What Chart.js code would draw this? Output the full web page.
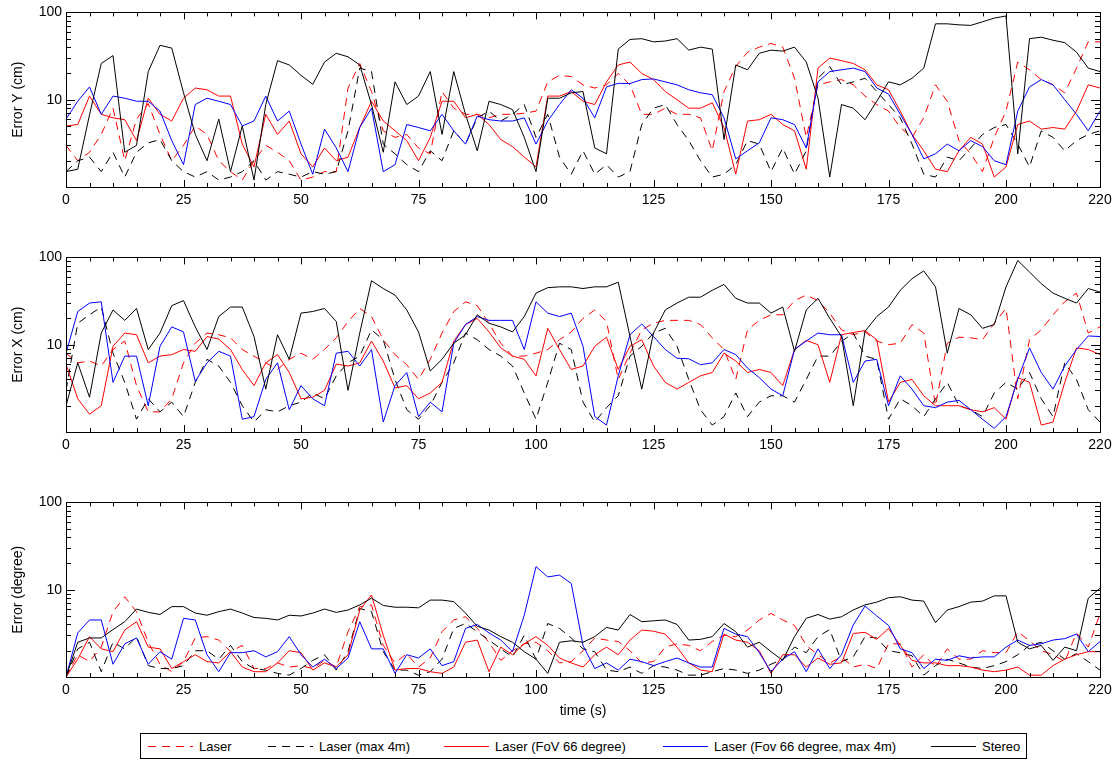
<!DOCTYPE html>
<html>
<head>
<meta charset="utf-8">
<script src="https://cdn.jsdelivr.net/npm/chart.js@4.4.0/dist/chart.umd.min.js"></script>
<style>
  body { margin: 0; background: #fff; font-family: "Liberation Sans", Arial, sans-serif; }
  #wrap { position: relative; width: 1117px; height: 763px; overflow: hidden; }
  canvas { position: absolute; left: 0; }
  #legend { position: absolute; left: 140px; top: 733px; width: 887px; height: 26px; box-sizing: border-box;
            border: 1px solid #000; font-size: 13px; color: #000; }
  #legend .item { position: absolute; top: 0; height: 24px; display: flex; align-items: center; white-space: nowrap; }
  #legend svg { margin-right: 6px; }
</style>
</head>
<body>
<div id="wrap">
  <canvas id="chartY" width="1117" height="210" style="top:0px"></canvas>
  <canvas id="chartX" width="1117" height="210" style="top:245px"></canvas>
  <canvas id="chartD" width="1117" height="232" style="top:490px"></canvas>
  <div id="legend"></div>
</div>
<script>
// time axis (s), sampled every 2.5 s
const times = [0,2.5,5,7.5,10,12.5,15,17.5,20,22.5,25,27.5,30,32.5,35,37.5,40,42.5,45,47.5,50,52.5,55,
  57.5,60,62.5,65,67.5,70,72.5,75,77.5,80,82.5,85,87.5,90,92.5,95,97.5,100,102.5,105,107.5,110,112.5,
  115,117.5,120,122.5,125,127.5,130,132.5,135,137.5,140,142.5,145,147.5,150,152.5,155,157.5,160,162.5,165,167.5,
  170,172.5,175,177.5,180,182.5,185,187.5,190,192.5,195,197.5,200,202.5,205,207.5,210,212.5,215,217.5,220];

const xTicks = [0, 25, 50, 75, 100, 125, 150, 175, 200, 220];
const yTicks = [10, 100];

// Error Y (cm)
const laserY = [3,2,2.5,4,8,2,6,9,4,2,3,5,4,2,1.5,1.2,2,3,2.5,2,1.2,1.3,1.5,
  1.5,13.6,26,12.4,4.4,3.7,4,2.8,2.4,12.4,8,6.8,6.8,6.2,6.8,6.8,7,7.4,16,19,18.4,14.8,13.6,
  14.8,20,14.8,6.8,6.8,8,6.8,6.8,6.2,2.6,12.4,24,35,40,44,40,17.6,3.7,14.8,16,17,14.8,
  11,8.8,7.4,4.8,3.7,6.2,14.8,9.6,3.4,2.4,1.5,3.7,7.4,27,22,17,14.8,12,23,46,46];
const laser4mY = [1.5,2,2.2,1.5,2.5,1.3,2.5,3.2,3.5,2,1.5,1.3,1.5,1.2,1.3,1.5,2,1.2,1.5,1.4,1.3,1.5,1.4,
  1.5,4.4,23,21,3.1,2.4,1.8,1.5,2.6,2,4.4,3.1,6.2,7.4,5.7,6.8,8.8,3.7,6.8,2.2,1.4,2.6,1.4,
  1.8,1.3,1.5,5.2,8,8.8,5.2,3.4,2,1.3,1.4,1.8,3.4,3.1,1.5,2.8,1.4,2.6,17.6,24,14.8,16,
  17.6,12.4,8.8,6.2,3.1,1.4,1.3,2.2,2,2.8,4,4.8,5.2,3.1,1.7,4.4,3.7,2.6,3.4,4,4.4];
const fovY = [5,5.2,11,6.8,6.2,5.9,3.4,10.4,6.8,5.7,10.4,13.6,13,11,11,3.1,1.7,6.8,4,5.7,2.4,1.7,2.8,
  2,2.2,4.8,9.6,5.7,4.4,3.4,2,3.7,9.6,9.6,6.2,6.8,5.2,3.5,2.9,2.2,1.7,11,11,12.4,9.6,8.8,
  16,25,27,20,17,12.4,10,8,8,9.2,4.8,1.4,5.7,5.9,6.8,5.2,4.4,1.6,23,30,28,26,
  22,14.8,13,7.4,4,2.6,1.6,1.5,2.6,3.7,3.1,1.3,1.7,5.2,5.7,4.6,4.8,4.6,7.4,14.8,13.6];
const fov4mY = [6,9.6,14,6.8,11,10.4,9.6,9.6,7.4,3.4,1.8,8.8,10.4,9.6,8.8,5,5.7,11,5.7,7.4,3.1,1.4,4.6,
  2.8,1.5,4.8,8,1.5,1.8,5.2,4.8,4.4,6.8,4.4,3.1,6.5,5.9,5.7,5.7,6.2,3.1,5.7,8.8,13,10.4,6.2,
  14,15.4,15.3,17,17.3,16,14.8,13,12,11.4,6.2,2.1,2.6,3.2,6.2,5.9,5.2,2.8,16,21,22,23,
  21,13.6,11.6,6.8,4,2.1,2.4,3.1,2.6,3.4,2.9,2,1.8,7.4,14,17,14.8,10,6.8,4.4,7.4];
const stereoY = [1.5,1.6,6.7,26,32,2.5,3,21,42,39,12,4,2,6,1.5,5,1.2,8.8,28,25,19,15,27,
  34,31,25,8.8,2.5,16,8.8,11,21,4,21,6.8,2.6,9.6,8.8,7.7,3.7,1.5,10.4,10.4,12,12.4,2.8,
  2.4,38,49,50,46,47,50,37,40,38,3.5,25,22,34,37,36,40,27,10.4,1.3,8.8,8,
  5.9,9.6,16,14.8,17.6,23,74,74,72,71,78,86,91,2.4,50,52,48,45,35,23,21];

// Error X (cm)
const laserX = [8,6.2,6.5,5.7,8.8,11,3.4,1.7,1.7,2.4,6.2,10.4,13.6,13,12,8.8,7.4,6.2,5.2,6.8,8,6.8,8.8,
  12,18.4,26,21,11.4,7.7,5.9,4,6.8,13.6,24,31,28,17.6,10.4,7.4,7.4,8,8.8,11.4,14,20,25,
  18.4,4,8,14.8,17.6,19,19,19,17,12,8.8,4,14.8,19,22,22,32,37,32,23,14.8,13,
  14,11,10,10.4,17,13.6,2,10.4,12.2,12,11.4,17.6,26,2.4,11.4,14.8,22,31,39,13.6,16];
const laser4mX = [3,17.6,22,27,8,3.7,1.4,2.4,1.7,2.2,1.5,3.7,6.8,5.7,3.7,2,1.3,1.8,1.7,2,2.2,2.8,2.4,
  4.4,6.2,7.4,14.8,11.4,4,1.8,1.4,2,3.7,6.2,13.6,11.4,8.8,7.4,5.7,2.8,1.4,3.7,10.4,8.8,2.2,1.3,
  1.9,2.6,7.4,9.6,13.6,15.4,9.6,4,1.8,1.2,1.5,2.8,1.5,2.2,2.6,2.6,2.2,4,7.4,7.4,10.9,13.6,
  7.4,6.8,1.4,2.4,2,1.5,2.4,3.7,2,1.8,1.5,2.8,3.7,3.1,4.8,2.4,1.5,6.2,4,1.8,1.3];
const fovX = [6,2.4,1.6,2,9.6,13.6,13,6.2,7.4,7.7,8.8,8.4,12.4,11.6,8.8,5.2,3.4,6.2,7.7,4.8,2.4,2.5,3,
  6,5.7,6.2,11,6.5,3.2,3.4,2.4,2.8,3.7,11,17,20,14,9.2,7.4,6.8,4.4,15.4,8.8,5.2,5.7,9.6,
  12.2,5.2,9.6,11.4,5.7,3.7,3.1,3.7,4.4,4.8,8,6.5,4.8,5.2,4.8,3.4,8.8,11.2,10,3.7,13,13.8,
  14.5,11.4,2.2,3.7,4,2.6,2,2,2,1.8,1.7,1.9,1.4,4.2,3.7,1.2,1.3,3.7,9.2,8.8,7.7];
const fov4mX = [8,24,30,31,3.7,7.4,7.4,2,9.6,16,14,3.8,6.2,8.4,7.4,1.4,1.5,4,6.2,1.8,3.4,2.4,2,
  8,8.4,5.7,8.8,1.3,3.4,4.8,1.5,2.2,1.7,10.4,17,21,19,19,19,8.8,31,23,21,23,9.6,1.5,
  1.2,4.4,13,17.3,12.4,8.8,7,6.9,5.9,6.2,8.8,7.7,5.4,4.2,3.1,2.6,8.8,11,13.6,13,13,3.7,
  6.5,6.8,2,4.4,3.1,2,1.9,2.2,2.3,1.8,1.4,1.1,1.5,4,9.2,4.8,3.1,5.7,8.8,12.6,12.4];
const stereoX = [2,6.2,2.5,13.6,25,19,26,8.8,13.6,28,32,16,8.8,21,27,27,12.4,3.1,13,6.8,23,24,26,
  18.4,3,13.6,54,44,37,25,14,5,6.8,10.4,13,22,17.6,16,14,21,39,45,46,46,44,46,
  46,52,12.4,3.1,13.6,25,30,35,35,42,49,34,30,30,23,27,8.4,25,34,20,12.4,2,
  14.2,21,27,42,57,70,46,8,26,22,15.4,17,46,92,68,50,39,34,30,44,40];

// Error (degree)
const laserD = [1,1.8,1.5,2.2,5.6,8.3,5.6,2.5,1.4,1.15,1.5,2.8,2.9,2.65,1.95,2.3,1.25,1.25,1.45,1.3,1.35,1.25,1.55,
  1.3,3.3,6.4,6.7,2.3,1.45,1.85,1.3,1.65,3.3,4.5,4.9,3.6,2.5,1.55,2,2.4,2.5,2,1.45,1.5,2,2.8,
  2.65,2.55,2,1.45,1.5,2.2,2.4,2.3,2,2.55,3,2.9,3.45,4.5,5.35,4.5,3.9,2.3,1.8,1.45,1.7,1.3,
  1.4,1.25,2.4,2.4,1.3,1.8,1.3,2.1,1.6,1.6,2,1.9,1.9,3.3,2.6,2,1.8,1.5,3.2,2.2,5.3];
const laser4mD = [1,2.1,2.5,1.15,2.5,2.1,2.9,1.35,1.25,1.25,1.35,2,2,1.6,2.3,1.5,1.25,1.2,1.1,1.05,1.25,1.55,1.8,
  1.2,1.95,6.1,5.6,1.95,1.2,1.2,1.05,1.15,1.6,3.6,4.1,3.3,2.65,2.1,1.7,3,1.6,4.1,3.6,2.8,2.1,1.95,
  1.2,1.15,1.3,1.1,1.35,1.3,1.2,1.05,1.05,1.15,1.25,1.2,1.1,1.2,1.4,1.6,2.2,1.9,2.9,3.5,1.5,1.7,
  2.9,2.8,2,1.9,1.75,1.05,1.35,1.6,1.45,1.3,1.25,1.35,1.5,1.8,2.3,2.5,2,1.6,1.85,1.5,1.2];
const fovD = [1,1.6,2.9,2.1,1.95,3.45,4.3,2.2,2.1,1.25,1.5,1.8,1.5,1.45,1.95,1.3,1.15,1.15,1.45,2,1.9,1.2,1.45,
  1.3,1.8,5.85,8.7,3,1.2,1.25,1.25,1.15,1.1,1.3,2.5,2.65,1.15,2.2,1.8,2.4,2.9,2.3,1.65,1.45,1.3,1.8,
  2.2,1.8,2.65,3.45,3.35,3.1,2.2,1.45,1.2,1.15,3.1,2.65,2.5,2,1.1,1.8,1.8,1.3,1.65,1.4,1.45,3.15,
  3.25,2.7,3.6,2.3,1.55,1.45,1.45,1.35,1.35,1.3,1.2,1.15,1.2,1.3,1.05,1.05,1.35,1.6,1.8,1.95,1.95];
const fov4mD = [1,3.2,4.5,4.5,1.4,2.4,2.8,1.4,1.95,1.6,4.7,4.5,1.8,1.15,1.9,1.9,2,1.7,1.95,2.9,1.8,1.3,1.6,
  1.25,1.65,4.3,2.1,2.1,1.1,1.8,1.65,2.1,1.35,1.5,3.6,4,3.2,2.65,1.95,5.1,18.4,14,14.7,11.8,2.3,1.25,
  1.45,1.2,1.6,1.5,1.35,1.5,1.65,1.45,1.3,1.3,3.6,3.1,2.9,1.9,1.15,1.6,1.95,1.15,2.1,1.25,1.8,3.95,
  6.5,5,3.9,2.1,1.9,1.25,1.6,1.55,1.75,1.65,1.7,1.7,2.2,2.65,2.3,2.4,2.65,2.75,3.1,1.95,2.55];
const stereoD = [1,2.5,2.8,2.8,3.5,4.3,6,5.5,5.2,6.4,6.4,5.4,5.1,5.6,6,5.4,4.8,4.7,4.5,5.1,5,5.4,6,
  5.5,5.85,6.7,8,6.6,6.3,6.3,6.2,7.6,7.6,7.3,5.4,3.8,3.45,2.9,2.5,1.95,1.6,1.1,2.5,2.6,2.5,2.9,
  3.7,3.45,5.2,4.3,4.4,4.5,4,2.65,2.7,2.9,4.1,3.3,2.2,2.5,1.95,1.55,2.9,4.7,5.2,4.6,4.9,5.85,
  6.7,7.2,8.1,8.3,7.6,7.4,4.2,5.85,6.4,7.2,7.4,8.5,8.5,2.5,2.1,2.3,1.55,2.2,2,8,10.4];

// series look (legend order); order = draw order, lower on top
const seriesStyle = [
  { label: 'Laser', color: '#ff0000', dash: [8, 6], order: 4 },
  { label: 'Laser (max 4m)', color: '#000000', dash: [8, 6], order: 3 },
  { label: 'Laser (FoV 66 degree)', color: '#ff0000', dash: [], order: 2 },
  { label: 'Laser (Fov 66 degree, max 4m)', color: '#0000ff', dash: [], order: 1 },
  { label: 'Stereo', color: '#000000', dash: [], order: 0 }
];

// inward ticks + frame, like the IDL plot
const framePlugin = {
  id: 'frame',
  afterDraw(chart) {
    const { ctx, chartArea: a, scales: { x, y } } = chart;
    ctx.save();
    ctx.strokeStyle = '#000';
    ctx.lineWidth = 1;
    ctx.strokeRect(Math.round(a.left) + 0.5, Math.round(a.top) + 0.5,
      Math.round(a.right - a.left), Math.round(a.bottom - a.top));
    ctx.beginPath();
    for (let v = 0; v <= 220; v += 5) {
      const px = Math.round(x.getPixelForValue(v)) + 0.5;
      const len = v % 25 === 0 ? 7 : 4;
      ctx.moveTo(px, a.bottom); ctx.lineTo(px, a.bottom - len);
      ctx.moveTo(px, a.top); ctx.lineTo(px, a.top + len);
    }
    for (let d = 1; d < 100; d *= 10) {
      for (let k = 1; k <= 10; k++) {
        const py = Math.round(y.getPixelForValue(d * k)) + 0.5;
        const len = (k === 1 || k === 10) ? 9 : 5;
        ctx.moveTo(a.left, py); ctx.lineTo(a.left + len, py);
        ctx.moveTo(a.right, py); ctx.lineTo(a.right - len, py);
      }
    }
    ctx.stroke();
    ctx.restore();
  }
};

function makePanel(id, yTitle, series, bottom) {
  const datasets = series.map((vals, i) => ({
    label: seriesStyle[i].label,
    data: vals.map((v, j) => ({ x: times[j], y: v })),
    borderColor: seriesStyle[i].color,
    borderDash: seriesStyle[i].dash,
    borderWidth: 1,
    pointRadius: 0,
    tension: 0,
    fill: false,
    order: seriesStyle[i].order
  }));

  new Chart(document.getElementById(id), {
    type: 'line',
    data: { datasets },
    options: {
      responsive: false,
      animation: false,
      devicePixelRatio: 1,
      layout: { padding: { top: 12, right: 17, left: 0, bottom: 0 } },
      plugins: { legend: { display: false }, tooltip: { enabled: false } },
      scales: {
        x: {
          type: 'linear', min: 0, max: 220,
          grid: { display: false, drawTicks: false },
          border: { display: false },
          ticks: { color: '#000', font: { size: 14, family: 'Liberation Sans' }, padding: 5, maxRotation: 0,
                   callback: v => String(v) },
          afterBuildTicks: s => { s.ticks = xTicks.map(v => ({ value: v })); },
          afterFit: s => { s.height = bottom ? 45 : 23; },
          title: { display: bottom, text: 'time (s)', color: '#000',
                   font: { size: 14, family: 'Liberation Sans' }, padding: { top: 0, bottom: 2 } }
        },
        y: {
          type: 'logarithmic', min: 1, max: 100,
          grid: { display: false, drawTicks: false },
          border: { display: false },
          ticks: { color: '#000', font: { size: 14, family: 'Liberation Sans' }, padding: 4,
                   callback: v => String(v) },
          afterBuildTicks: s => { s.ticks = yTicks.map(v => ({ value: v })); },
          afterFit: s => { s.width = 66; },
          title: { display: true, text: yTitle, color: '#000',
                   font: { size: 14, family: 'Liberation Sans' }, padding: { top: 10, bottom: 0 } }
        }
      }
    },
    plugins: [framePlugin]
  });
}

makePanel('chartY', 'Error Y (cm)', [laserY, laser4mY, fovY, fov4mY, stereoY], false);
makePanel('chartX', 'Error X (cm)', [laserX, laser4mX, fovX, fov4mX, stereoX], false);
makePanel('chartD', 'Error (degree)', [laserD, laser4mD, fovD, fov4mD, stereoD], true);

// legend row
const legendLeft = [7, 127, 303, 522, 790];
const legend = document.getElementById('legend');
seriesStyle.forEach((s, i) => {
  const item = document.createElement('div');
  item.className = 'item';
  item.style.left = legendLeft[i] + 'px';
  const dash = s.dash.length ? ` stroke-dasharray="${s.dash.join(',')}"` : '';
  item.innerHTML = `<svg width="45" height="10"><line x1="0" y1="5.5" x2="45" y2="5.5" stroke="${s.color}" stroke-width="1"${dash}/></svg><span>${s.label}</span>`;
  legend.appendChild(item);
});
</script>
</body>
</html>
